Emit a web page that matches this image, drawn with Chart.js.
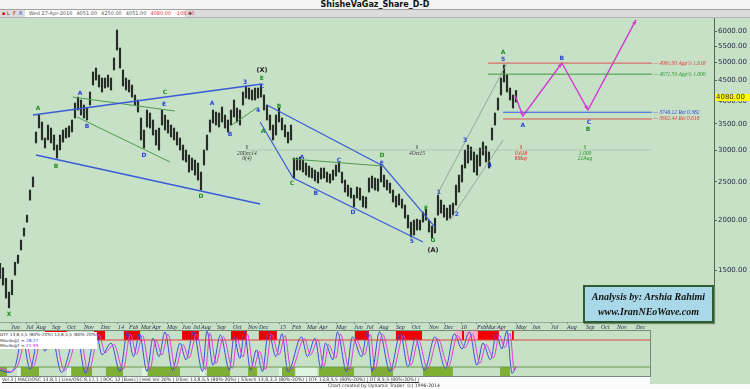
<!DOCTYPE html>
<html>
<head>
<meta charset="utf-8">
<title>ShisheVaGaz_Share_D-D</title>
<script src="https://cdn.jsdelivr.net/npm/chart.js@4.4.1/dist/chart.umd.min.js"></script>
<style>
  html, body { margin: 0; padding: 0; }
  body { width: 750px; height: 389px; overflow: hidden; position: relative; background: #c7e1c7; font-family: "DejaVu Sans", sans-serif; }
  #main { position: absolute; left: 0; top: 0; }
  #titlebar { position: absolute; left: 0; top: 0; width: 750px; height: 9px; background: #f3f3f3; border-bottom: 1px solid #a0a0a0; text-align: center; font: bold 8px "DejaVu Sans"; line-height: 9px; color: #111; }
  #infobar { position: absolute; left: 0; top: 10px; width: 750px; height: 7px; background: #dcdcdc; border-bottom: 1px solid #b4b4b4; font: 5px "DejaVu Sans"; line-height: 7px; color: #555; white-space: nowrap; }
  #infobar .flags { position: absolute; left: 2px; top: 0; color: #c00; }
  #infobar .field { position: absolute; left: 25px; top: 0; width: 160px; height: 7px; background: #fff; }
  #infobar .field span { margin-left: 4px; }
  #infobar .red { color: #e03030; }
  #infobar .plus { position: absolute; left: 188px; top: 0; color: #111; font-weight: bold; }
  #oscbox { position: absolute; left: 0; top: 330px; width: 650px; height: 45px; border-top: 1px solid #7a8a7a; border-bottom: 1px solid #7a8a7a; border-right: 1px solid #7a8a7a; }
  #osc { position: absolute; left: 0; top: 0; }
  #osclegend { position: absolute; left: 0; top: 1px; width: 97px; height: 17px; background: #fff; font: 4.3px "DejaVu Sans"; line-height: 5.6px; color: #333; white-space: nowrap; overflow: hidden; }
  #footer { position: absolute; left: 0; top: 377px; width: 650px; height: 12px; background: #fbfbfb; font: 4.6px "DejaVu Sans"; color: #333; white-space: nowrap; }
  #footer .studies { position: absolute; left: 2px; top: 0; text-decoration: underline; }
  #footer .credit { position: absolute; left: 328px; top: 6px; }
  #bottomstrip { position: absolute; left: 650px; top: 384px; width: 100px; height: 5px; background: #fbfbfb; }
  #analysis { position: absolute; left: 583px; top: 285px; width: 127px; height: 34px; background: #a9d9e8; border: 2px solid #2f5d2f; box-shadow: 1px 1px 1px #6a8a6a; text-align: center; font: italic bold 10px "Liberation Serif", serif; line-height: 15px; color: #111; }
  #analysis div:first-child { margin-top: 2px; }
</style>
</head>
<body>
<canvas id="main" width="750" height="331"></canvas>
<div id="titlebar">ShisheVaGaz_Share_D-D</div>
<div id="infobar">
  <span class="flags">&#9642; L&nbsp; F&nbsp; <span style="color:#2a3fd8">R</span></span>
  <span class="field"><span>Wed 27-Apr-2016</span><span>4051.00</span><span>4250.00</span><span>4051.00</span><span class="red">4080.00</span><span class="red">-108.00</span></span>
  <span class="plus">+</span>
</div>
<div id="analysis"><div>Analysis by: Arshia Rahimi</div><div>www.IranNEoWave.com</div></div>
<div id="oscbox">
  <canvas id="osc" width="650" height="45"></canvas>
  <div id="osclegend">
    <div>DTF 13,8,5,5 (80%-20%) 13,8,5,5 (80%-20%)</div>
    <div>MovAvg1 = <span style="color:#2a3fd8">28.27</span></div>
    <div>MovAvg2 = <span style="color:#e020e0">21.99</span></div>
  </div>
</div>
<div id="footer">
  <span class="studies">Vol 3 | MACDOSC 13,8,1 | Line/OSC 8,17,1 | ROC 12 [Basic] | Hist Vol 20% | DTosc 13,8,5,5 (80%-20%) | STosch 13,8,3,3 (80%-20%) | DTF 13,8,5,5 (80%-20%) | DT 8,5,5 (80%-20%) /</span>
  <span class="credit">Chart created by Dynamic Trader&nbsp; (c) 1996-2014</span>
</div>
<div id="bottomstrip"></div>
<script>
// ---- price bars: one bar per slot (about two sessions), low / high ----
const priceLow = [1430,1375,1275,1205,1300,1457,1560,1685,1827,1980,2250,2430,3135,3420,3190,3045,3190,3135,3010,2872,
  3010,3150,3226,3245,3340,3623,3794,3686,3623,3581,3906,4386,4515,4336,4212,4311,4336,4261,4786,5374,
  4842,4361,4261,4212,4090,3906,3750,3189,3044,3438,3418,3282,3097,3009,3478,3379,3320,3245,3189,3097,
  3009,2839,2807,2648,2679,2602,2528,2386,2758,3009,3340,3519,3478,3438,3540,3418,3340,3478,3644,3540,
  3478,3906,4067,4044,4021,4021,4067,4090,3794,3581,3379,3189,3282,3540,3379,3245,3134,3189,2558,2679,
  2679,2648,2602,2573,2558,2514,2485,2543,2558,2500,2485,2528,2587,2648,2485,2358,2303,2278,2162,2278,
  2251,2162,2149,2358,2414,2386,2372,2500,2428,2386,2344,2225,2162,2187,2149,2028,1914,1817,1838,1892,
  1892,1981,2004,1870,1806,1860,2063,2087,2039,2004,2028,2063,2187,2358,2500,2711,2790,2839,2648,2602,
  2742,2923,2807,2711,3189,3478,3794,4139,4463,4212,4021,3839,3975];
const priceHigh = [1560,1520,1430,1320,1415,1570,1636,1785,1914,2063,2386,2573,3340,3686,3540,3226,3478,3418,3282,3097,
  3282,3379,3418,3458,3581,3952,4090,4021,3906,3839,4212,4731,4842,4648,4568,4568,4648,4568,5131,6035,
  5437,4786,4568,4515,4386,4139,4021,3623,3379,3794,3730,3581,3379,3418,3794,3686,3581,3478,3418,3340,
  3226,3097,3009,2923,2872,2839,2790,2648,3009,3282,3581,3794,3750,3730,3861,3686,3581,3794,4021,3839,
  3794,4212,4361,4311,4261,4311,4311,4386,4139,3906,3686,3478,3686,3839,3623,3478,3340,3478,2872,2872,
  2889,2839,2790,2742,2711,2679,2648,2711,2711,2648,2617,2679,2758,2807,2648,2528,2456,2414,2317,2428,
  2414,2303,2290,2558,2587,2558,2543,2742,2602,2528,2485,2386,2303,2331,2264,2187,2063,1981,2004,2016,
  2004,2100,2137,2004,1936,2027,2317,2251,2187,2149,2187,2212,2456,2602,2758,3009,3097,3062,2975,2923,
  3044,3152,3079,2975,3418,3730,4067,4568,4926,4648,4311,4139,4250];
const lastClose = 4080;

// ---- axes ----
const priceTicks = [1500, 2000, 2500, 3000, 3500, 4000, 4500, 5000, 5500, 6000];
const monthTickX = [3.7,8.7,12,17.3,22.3,28,33.7,39.3,43,47,50.7,55.7,60.7,64.3,67,72.3,77.7,82.7,86.3,93.3,
  97.3,102.3,106.3,112,118,122,126.3,132,137.3,143,148,153.7,159,162,165.7,172,177.3,183.7,189,195.3,200.3,205.7,212];
const monthTickText = ['Jun','Jul','Aug','Sep','Oct','Nov','Dec','14','Feb','Mar','Apr','May','Jun','Jul','Aug','Sep','Oct','Nov','Dec','15',
  'Feb','Mar','Apr','May','Jun','Jul','Aug','Sep','Oct','Nov','Dec','16','Feb','Mar','Apr','May','Jun','Jul','Aug','Sep','Oct','Nov','Dec'];

// ---- wave structure lines [slot, price] ----
const blueUpperLine = [[11, 3686], [87.3, 4412]];
const blueLowerLine = [[12, 2923], [86.7, 2200]];
const blueDiamondTop = [[89, 3906], [127.7, 2742], [145, 1925]];
const blueDiamondLow = [[86.7, 3540], [97.7, 2558], [141, 1765]];
const greenUpperLine = [[24.3, 4090], [58.3, 3772]];
const greenLowerLine = [[25.7, 3644], [56.7, 2807]];
const greenWaveLine = [[77.3, 3478], [86, 3861]];
const greenAceLine = [[97.3, 2856], [127.7, 2742]];
const grayChannelTop = [[146, 2345], [169, 4984]];
const grayChannelLow = [[150, 2004], [167.7, 3189]];
const timeLine = [[82, 3009], [217, 3009]];

// ---- projected path ----
const projX = [171.7, 174.3, 187.3, 196, 212];
const projY = [4129, 3665, 4984, 3794, 6400];

// ---- Fibonacci levels ----
const levelValue = [4981.00, 4671.59, 3746.12, 3602.44];
const levelName = ['App% 1.618', 'App% 1.000', 'Ret 0.382', 'Ret 0.618'];
const levelFrom = [162.7, 162.7, 167.7, 167.7];
const levelTo = 217.3;

// ---- wave labels ----
const greenText = ['X','A','B','C','D','E','A','B','C','D','F','G','A','B'];
const greenX = [3,12.7,18.7,55,67,87.3,87.7,93,97.3,127.3,142,144.3,167.7,196];
const greenY = [1162,3839,2742,4212,2304,4568,3359,3883,2485,2923,2149,1785,5312,3398];
const blueText = ['A','B','D','E','A','B','3','4','C','A','B','C','D','E','5','1','2','3','4','5','A','B','C'];
const blueX = [26.7,29,48,54.7,70.7,76.7,81.7,86,87.3,100.7,105.3,113,117.7,127.3,137.3,146.3,152.3,155,163.3,167.7,174.3,187.3,196.3];
const blueY = [4187,3458,2923,3929,3952,3301,4463,3794,4361,2889,2345,2839,2100,2790,1775,2358,2075,3189,2758,5100,3478,5131,3540];
const degreeText = ['(X)', '(A)'];
const degreeX = [87.3, 144.3];
const degreeY = [4786, 1684];

// ---- time markers ----
const markX = [82.3, 139, 173.7, 195];
const markTop = ['20Dec14', '4Oct15', '0.618', '1.000'];
const markBottom = ['0(4)', '', '8May', '21Aug'];

// ---- oscillator (DTosc) ----
const oscBlueX = [0,2.7,5,7.5,10,13,15,17,20.5,25.5,28.5,32,34,37,40,42.5,44.5,46.5,49,51,53,55,57.5,60,62,64.5,67.5,69,71,73.5,76.5,78,80,81.5,83.5,85.5,87.5,89.5,92,94,96,100.5,102.5,105,107,108.5,111,112.5,115.5,117.5,120.5,122.5,124,126.5,130,133.5,136,138.5,141.5,145,148.5,151.5,154,156.5,159,161,163.5,165.5,167.3,169,170.7,172];
const oscBlue = [13,8,20,85,15,92,55,97,8,95,6,98,47,73,10,98,43,94,10,84,43,98,13,73,36,98,10,100,24,91,13,87,39,98,13,58,10,98,43,94,10,87,43,84,17,73,36,98,10,87,43,98,10,98,10,94,20,84,13,87,17,94,60,98,24,73,36,94,60,100,6,20];
const oscPinkX = [0,3.5,6,8.5,11,14,16,18,21.5,26.5,29.5,33,35,38,41,43.5,45.5,47.5,50,52,54,56,58.5,61,63,65.5,68.5,70,72,74.5,77.5,79,81,82.5,84.5,86.5,88.5,90.5,93,95,97,101.5,103.5,106,108,109.5,112,113.5,116.5,118.5,121.5,123.5,125,127.5,131,134.5,137,139.5,142.5,146,149.5,152.5,155,157.5,160,162,164.5,166.5,168.3,170,171.5,172];
const oscPink = [18,10,25,78,20,88,60,92,12,90,10,93,52,70,14,93,48,90,14,80,47,93,17,70,40,93,14,95,28,87,17,83,42,93,17,55,14,93,47,90,14,83,47,80,21,70,40,93,14,83,47,93,14,93,14,90,24,80,17,83,21,90,63,93,28,70,40,90,63,95,12,22];
const redBlocks = [[15,22.3],[31.3,35],[41.3,46.7],[60.7,66.3],[77,82.3],[86.3,92.3],[118.3,123],[132,140.7],[159.3,166.3],[170.7,171.3],[154,154.7]];
const pinkBlocks = [[151.7,153.7],[155,159]];
const greenBlocks = [[0,2.3],[7,13],[23.7,30.7],[35.3,41],[49.3,60],[69,76.7],[82.7,85.7],[94,98.3],[106.3,118],[123.7,131],[141,151],[166.7,170]];
const paleBlocks = [[5.7,6.7],[22.3,23.7],[47.3,49],[66.7,68.3],[93,94],[98.7,105.7]];

const toPts = a => a.map(([x, y]) => ({ x, y }));
const seg = (pts, color, width) => ({ type: 'line', data: toPts(pts), borderColor: color, borderWidth: width, pointRadius: 0, tension: 0, fill: false, order: 1 });

const annotate = {
  id: 'annotate',
  afterDatasetsDraw(chart) {
    const { ctx, scales: { x, y } } = chart;
    ctx.save();
    ctx.textAlign = 'center';
    ctx.textBaseline = 'middle';
    const put = (texts, xs, ys, color, font) => {
      ctx.font = font; ctx.fillStyle = color;
      texts.forEach((t, i) => ctx.fillText(t, x.getPixelForValue(xs[i]), y.getPixelForValue(ys[i])));
    };
    put(greenText, greenX, greenY, '#1d8f1d', 'bold 6px "DejaVu Sans"');
    put(blueText, blueX, blueY, '#2a3fd8', 'bold 6px "DejaVu Sans"');
    put(degreeText, degreeX, degreeY, '#222', 'bold 6.5px "DejaVu Sans"');

    // time markers
    const markColor = ['#333', '#333', '#e02020', '#1d8f1d'];
    const my = y.getPixelForValue(3009);
    markX.forEach((mx, i) => {
      const px = x.getPixelForValue(mx);
      ctx.strokeStyle = markColor[i]; ctx.lineWidth = 0.8;
      ctx.beginPath(); ctx.moveTo(px, my - 5); ctx.lineTo(px, my - 1); ctx.stroke();
      ctx.fillStyle = markColor[i];
      ctx.font = 'italic 5.5px "Liberation Serif"';
      ctx.fillText(markTop[i], px, my + 4);
      ctx.fillText(markBottom[i], px, my + 9);
    });

    // level captions
    const levelColor = ['#e03a3a', '#2c9a2c', '#2a3fd8', '#e03a3a'];
    ctx.textAlign = 'left';
    ctx.font = 'italic 5.5px "Liberation Serif"';
    levelValue.forEach((v, i) => {
      ctx.fillStyle = levelColor[i];
      ctx.fillText('\u2014 ' + v.toFixed(2) + ' ' + levelName[i], x.getPixelForValue(levelTo) + 1, y.getPixelForValue(v));
    });

    // arrowheads on projected path
    const pts = chart.getDatasetMeta(chart.data.datasets.findIndex(d => d.label === 'projection')).data;
    ctx.fillStyle = '#d23ad2';
    for (let k = 1; k < pts.length; k++) {
      const a = pts[k - 1], b = pts[k];
      const ang = Math.atan2(b.y - a.y, b.x - a.x);
      ctx.beginPath();
      ctx.moveTo(b.x, b.y);
      ctx.lineTo(b.x - 5 * Math.cos(ang - 0.4), b.y - 5 * Math.sin(ang - 0.4));
      ctx.lineTo(b.x - 5 * Math.cos(ang + 0.4), b.y - 5 * Math.sin(ang + 0.4));
      ctx.closePath(); ctx.fill();
    }

    // last price flag on the axis
    const ly = y.getPixelForValue(lastClose);
    ctx.fillStyle = '#ffff00';
    ctx.fillRect(chart.chartArea.right + 1, ly - 3.5, 35, 7);
    ctx.fillStyle = '#333';
    ctx.font = '7px "DejaVu Sans"';
    ctx.fillText(lastClose.toFixed(2), chart.chartArea.right + 2, ly);
    ctx.restore();
  }
};

new Chart(document.getElementById('main'), {
  type: 'bar',
  data: {
    datasets: [
      { type: 'bar', data: priceLow.map((lo, i) => ({ x: i, y: [lo, priceHigh[i]] })), backgroundColor: '#262c26', barThickness: 1.5, grouped: false, order: 10 },
      seg(timeLine, 'rgba(150,165,150,0.7)', 0.6),
      seg(blueUpperLine, '#3b5bd6', 1.4),
      seg(blueLowerLine, '#3b5bd6', 1.4),
      seg(blueDiamondTop, '#3b5bd6', 1.2),
      seg(blueDiamondLow, '#3b5bd6', 1.2),
      seg(greenUpperLine, '#4d9a4d', 1),
      seg(greenLowerLine, '#4d9a4d', 1),
      seg(greenWaveLine, '#4d9a4d', 1),
      seg(greenAceLine, '#4d9a4d', 1),
      seg(grayChannelTop, '#8e968e', 0.8),
      seg(grayChannelLow, '#8e968e', 0.8),
      seg([[levelFrom[0], levelValue[0]], [levelTo, levelValue[0]]], '#e05050', 1),
      seg([[levelFrom[1], levelValue[1]], [levelTo, levelValue[1]]], '#3d9a3d', 1),
      seg([[levelFrom[2], levelValue[2]], [levelTo, levelValue[2]]], '#2f5ee0', 1.2),
      seg([[levelFrom[3], levelValue[3]], [levelTo, levelValue[3]]], '#e05050', 1),
      Object.assign(seg(projX.map((v, i) => [v, projY[i]]), '#d23ad2', 1.4), { label: 'projection' })
    ]
  },
  options: {
    responsive: false,
    animation: false,
    layout: { padding: { top: 18, left: 0, right: 0, bottom: 0 } },
    plugins: { legend: { display: false }, tooltip: { enabled: false } },
    scales: {
      x: {
        type: 'linear', min: 0, max: 238, offset: false,
        afterBuildTicks: s => { s.ticks = monthTickX.map(v => ({ value: v })); },
        afterFit: s => { s.height = 9; },
        ticks: { autoSkip: false, maxRotation: 0, align: 'start', padding: 0, color: '#2a2a4a',
          font: { size: 6, family: 'Liberation Serif', style: 'italic' },
          callback: (v, i) => monthTickText[i] },
        grid: { drawOnChartArea: false, tickLength: 2, color: '#6f7f6f', offset: false },
        border: { color: '#9aa69a' }
      },
      y: {
        type: 'logarithmic', position: 'right', min: 1110, max: 6470, beginAtZero: false,
        afterBuildTicks: s => { s.ticks = priceTicks.map(v => ({ value: v })); },
        afterFit: s => { s.width = 36; },
        ticks: { padding: 1, color: '#2a2a4a', font: { size: 7, family: 'DejaVu Sans' }, callback: v => Number(v).toFixed(2) },
        grid: { drawOnChartArea: false, tickLength: 3, color: '#4f6a4f' },
        border: { color: '#4f6a4f' }
      }
    }
  },
  plugins: [annotate]
});

const blocks = {
  id: 'blocks',
  beforeDatasetsDraw(chart) {
    const { ctx, scales: { x, y } } = chart;
    const draw = (list, lo, hi, color) => {
      ctx.fillStyle = color;
      list.forEach(([a, b]) => {
        const x0 = x.getPixelForValue(a), x1 = x.getPixelForValue(b);
        const y0 = y.getPixelForValue(hi), y1 = y.getPixelForValue(lo);
        ctx.fillRect(x0, y0, x1 - x0, y1 - y0);
      });
    };
    ctx.save();
    draw(redBlocks, 80, 100, '#ee0000');
    draw(pinkBlocks, 80, 100, '#ffb3c3');
    draw(greenBlocks, 0, 20, '#7fae35');
    draw(paleBlocks, 0, 20, '#dff5df');
    ctx.restore();
  }
};

new Chart(document.getElementById('osc'), {
  type: 'line',
  data: {
    datasets: [
      { data: [{ x: 0, y: 80 }, { x: 216.7, y: 80 }], borderColor: '#e04040', borderWidth: 1, pointRadius: 0 },
      { data: [{ x: 0, y: 20 }, { x: 216.7, y: 20 }], borderColor: '#6a9a4a', borderWidth: 1, pointRadius: 0 },
      { data: oscPinkX.map((v, i) => ({ x: v, y: oscPink[i] })), borderColor: '#e03ae0', borderWidth: 1, pointRadius: 0, cubicInterpolationMode: 'monotone' },
      { data: oscBlueX.map((v, i) => ({ x: v, y: oscBlue[i] })), borderColor: '#3a4ae0', borderWidth: 1, pointRadius: 0, cubicInterpolationMode: 'monotone' }
    ]
  },
  options: {
    responsive: false,
    animation: false,
    layout: { padding: 0 },
    plugins: { legend: { display: false }, tooltip: { enabled: false } },
    scales: {
      x: { type: 'linear', display: false, min: 0, max: 216.7 },
      y: { display: false, min: 0, max: 100 }
    }
  },
  plugins: [blocks]
});
</script>
</body>
</html>
